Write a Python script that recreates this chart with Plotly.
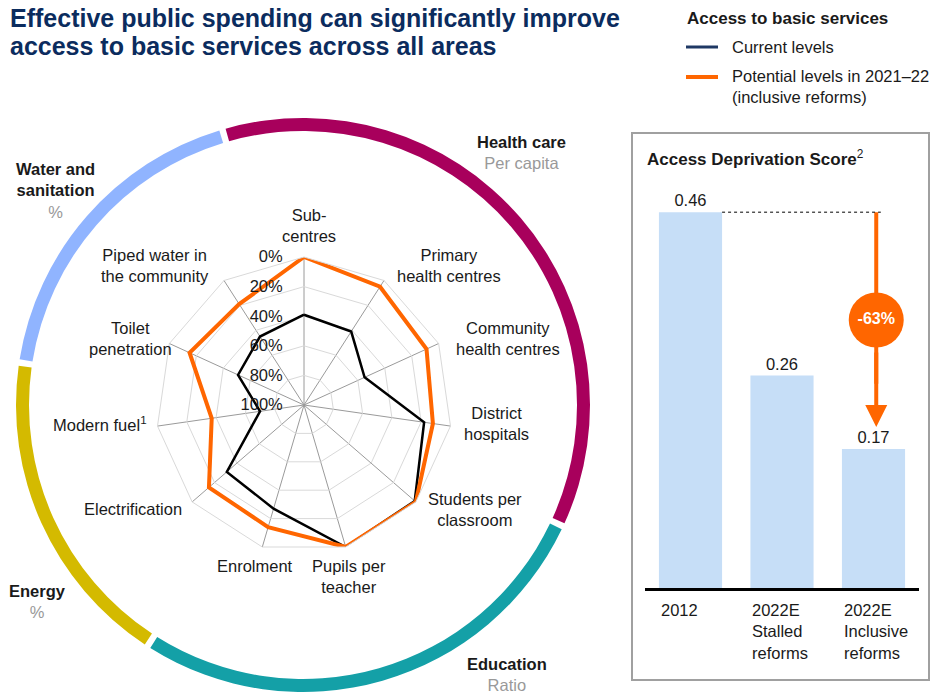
import plotly.graph_objects as go

W, H = 935, 693

# ---------------- data ----------------
categories = ["Sub-centres", "Primary health centres", "Community health centres",
              "District hospitals", "Students per classroom", "Pupils per teacher",
              "Enrolment", "Electrification", "Modern fuel", "Toilet penetration",
              "Piped water in the community"]
category_labels = ["Sub-<br>centres", "Primary<br>health centres", "Community<br>health centres",
                   "District<br>hospitals", "Students per<br>classroom", "Pupils per<br>teacher",
                   "Enrolment", "Electrification", "Modern fuel<sup>1</sup>", "Toilet<br>penetration",
                   "Piped water in<br>the community"]
current_levels = [39, 41, 55, 18, 1, 0, 27, 31, 70, 51, 45]
potential_levels = [0, 5, 9, 12, 0, 0, 14, 15, 37, 15, 19]
radial_ticks = [0, 20, 40, 60, 80, 100]
radial_ticktext = ["0%", "20%", "40%", "60%", "80%", "100%"]

ring_names = ["Health care", "Education", "Energy", "Water and<br>sanitation"]
ring_units = ["Per capita", "Ratio", "%", "%"]
ring_spans = [130.0, 96.5, 64.4, 63.9]   # degrees of arc per area

bar_categories = ["2012", "2022E<br>Stalled<br>reforms", "2022E<br>Inclusive<br>reforms"]
bar_values = [0.46, 0.26, 0.17]
bar_value_text = ["0.46", "0.26", "0.17"]
change_label = "-63%"

# ---------------- styles ----------------
FONT = "Arial, Liberation Sans, sans-serif"
NAVY = "#0B2C5E"
ORANGE = "#FF6600"
RING_COLORS = ["#A8005C", "#14A0A7", "#D4BA00", "#90B4FF"]
BAR_COLOR = "#C6DEF7"
TXT = "#1A1A1A"
GREY = "#999999"
LBL = 16.5


def px(x):
    return x / W


def py(y):
    return 1 - y / H


fig = go.Figure()

# ---------------- outer ring (donut) ----------------
GAP = 1.3
ring_vals, ring_cols = [], []
for s, c in zip(ring_spans, RING_COLORS):
    ring_vals += [s, GAP]
    ring_cols += [c, "rgba(0,0,0,0)"]
cx, cy = 303, 405
R_OUT = 287
fig.add_trace(go.Pie(
    values=ring_vals, marker=dict(colors=ring_cols, line=dict(width=0)),
    hole=274 / R_OUT, sort=False, direction="clockwise", rotation=360 - 16.3 + GAP / 2,
    textinfo="none", hoverinfo="skip", showlegend=False,
    domain=dict(x=[px(cx - R_OUT), px(cx + R_OUT)], y=[py(cy + R_OUT), py(cy - R_OUT)]),
))

# ---------------- radar ----------------
theta = categories + [categories[0]]
fig.add_trace(go.Scatterpolar(
    r=current_levels + [current_levels[0]], theta=theta, mode="lines",
    line=dict(color="#000000", width=2.5), showlegend=False, name="Current levels"))
fig.add_trace(go.Scatterpolar(
    r=potential_levels + [potential_levels[0]], theta=theta, mode="lines",
    line=dict(color=ORANGE, width=4), showlegend=False,
    name="Potential levels in 2021–22"))

RCX, RCY, RR = 304, 405, 148
fig.update_layout(polar=dict(
    domain=dict(x=[px(RCX - RR), px(RCX + RR)], y=[py(RCY + RR), py(RCY - RR)]),
    bgcolor="rgba(0,0,0,0)",
    gridshape="linear",
    radialaxis=dict(range=[100, 0], tickvals=radial_ticks, ticktext=radial_ticktext,
                    angle=90, tickangle=90, side="counterclockwise", showline=False,
                    gridcolor="#D9D9D9", gridwidth=1, ticks="outside", ticklen=15,
                    tickcolor="rgba(0,0,0,0)",
                    tickfont=dict(size=LBL, color=TXT, family=FONT)),
    angularaxis=dict(rotation=90, direction="clockwise", showticklabels=False,
                     gridcolor="#9A9A9A", gridwidth=1, showline=True, linecolor="#D9D9D9",
                     linewidth=1, ticks=""),
))

# radar category labels
LABEL_POS = [(309, 225), (449, 265), (508, 338), (496, 423), (475, 509), (349, 576),
             (255, 566), (133, 509), (100, 424), (130, 338), (155, 265)]
for lab, (x, y) in zip(category_labels, LABEL_POS):
    fig.add_annotation(x=px(x), y=py(y), xref="paper", yref="paper", text=lab,
                       showarrow=False, xanchor="center", yanchor="middle", align="center",
                       font=dict(size=LBL, color=TXT, family=FONT))

# ring labels
RING_LABEL_POS = [(521, 152), (507, 674), (37, 601), (55, 190)]
for name, unit, (x, y) in zip(ring_names, ring_units, RING_LABEL_POS):
    fig.add_annotation(x=px(x), y=py(y), xref="paper", yref="paper",
                       text=f"<b>{name}</b><br><span style='color:{GREY}'>{unit}</span>",
                       showarrow=False, xanchor="center", yanchor="middle", align="center",
                       font=dict(size=LBL, color=TXT, family=FONT))

# ---------------- bar panel ----------------
fig.add_trace(go.Bar(
    x=[0, 1, 2], y=bar_values, width=0.69, marker=dict(color=BAR_COLOR, line=dict(width=0)),
    text=bar_value_text, textposition="outside", cliponaxis=False,
    textfont=dict(size=LBL, color=TXT, family=FONT), showlegend=False, hoverinfo="skip",
    xaxis="x", yaxis="y"))

XL, XR = 644.75, 919.25
fig.update_layout(
    xaxis=dict(domain=[px(XL), px(XR)], range=[-0.5, 2.5], showticklabels=False,
               showgrid=False, zeroline=False, showline=True, linecolor="#000000",
               linewidth=2.5, ticks="", fixedrange=True),
    yaxis=dict(domain=[py(588), py(588 - 0.55 * 817)], range=[0, 0.55], showticklabels=False,
               showgrid=False, zeroline=False, showline=False, ticks="", fixedrange=True),
)

for i, lab in enumerate(bar_categories):
    fig.add_annotation(x=i - 0.345, y=py(599), xref="x", yref="paper", text=lab,
                       showarrow=False, xanchor="left", yanchor="top", align="left",
                       font=dict(size=LBL, color=TXT, family=FONT))

# dotted reference line from 2012 bar top
fig.add_shape(type="line", xref="x", yref="y", x0=0.345, x1=2.08,
              y0=bar_values[0], y1=bar_values[0], line=dict(color="#000000", width=1, dash="dot"))

# orange arrow: shaft below the circle, head annotation
ARROW_X = 2.03
CIRCLE_Y = 0.328
fig.add_shape(type="line", xref="x", yref="y", x0=ARROW_X, x1=ARROW_X,
              y0=bar_values[0], y1=0.25, line=dict(color=ORANGE, width=4), layer="below")
fig.add_annotation(x=ARROW_X, y=bar_values[2] + 0.027, ax=ARROW_X, ay=0.29,
                   xref="x", yref="y", axref="x", ayref="y", text="", showarrow=True,
                   arrowhead=2, arrowsize=1.1, arrowwidth=4, arrowcolor=ORANGE)
fig.add_trace(go.Scatter(
    x=[ARROW_X], y=[CIRCLE_Y], mode="markers+text", text=[f"<b>{change_label}</b>"],
    textposition="middle center", textfont=dict(size=16, color="#FFFFFF", family=FONT),
    marker=dict(size=55, color=ORANGE, line=dict(width=0)), showlegend=False,
    hoverinfo="skip", cliponaxis=False, xaxis="x", yaxis="y"))

# panel border
fig.add_shape(type="rect", xref="paper", yref="paper", x0=px(632), x1=px(929),
              y0=py(680), y1=py(133), line=dict(color="#A0A0A0", width=2))
fig.add_annotation(x=px(645), y=py(158), xref="paper", yref="paper",
                   text="<b>Access Deprivation Score</b><sup>2</sup>", showarrow=False,
                   xanchor="left", yanchor="middle", font=dict(size=17, color=TXT, family=FONT))

# ---------------- legend ----------------
fig.add_annotation(x=px(685), y=py(18), xref="paper", yref="paper",
                   text="<b>Access to basic services</b>", showarrow=False,
                   xanchor="left", yanchor="middle", font=dict(size=17, color=TXT, family=FONT))
fig.add_shape(type="line", xref="paper", yref="paper", x0=px(686), x1=px(718),
              y0=py(47), y1=py(47), line=dict(color="#1F3864", width=3))
fig.add_shape(type="line", xref="paper", yref="paper", x0=px(686), x1=px(718),
              y0=py(77), y1=py(77), line=dict(color=ORANGE, width=4))
fig.add_annotation(x=px(730), y=py(47), xref="paper", yref="paper", text="Current levels",
                   showarrow=False, xanchor="left", yanchor="middle",
                   font=dict(size=LBL, color=TXT, family=FONT))
fig.add_annotation(x=px(730), y=py(65), xref="paper", yref="paper",
                   text="Potential levels in 2021–22<br>(inclusive reforms)", showarrow=False,
                   xanchor="left", yanchor="top", align="left",
                   font=dict(size=LBL, color=TXT, family=FONT))

# ---------------- title ----------------
for txt, y in [("Effective public spending can significantly improve", 18),
               ("access to basic services across all areas", 46)]:
    fig.add_annotation(x=px(8), y=py(y), xref="paper", yref="paper", text=f"<b>{txt}</b>",
                       showarrow=False, xanchor="left", yanchor="middle",
                       font=dict(size=25, color=NAVY, family=FONT))

fig.update_layout(width=W, height=H, margin=dict(l=0, r=0, t=0, b=0),
                  paper_bgcolor="#FFFFFF", plot_bgcolor="rgba(0,0,0,0)",
                  showlegend=False, font=dict(family=FONT))

fig.write_html("out.html", config={"displayModeBar": False},
               post_script="document.body.style.margin='0';document.body.style.overflow='hidden';")
